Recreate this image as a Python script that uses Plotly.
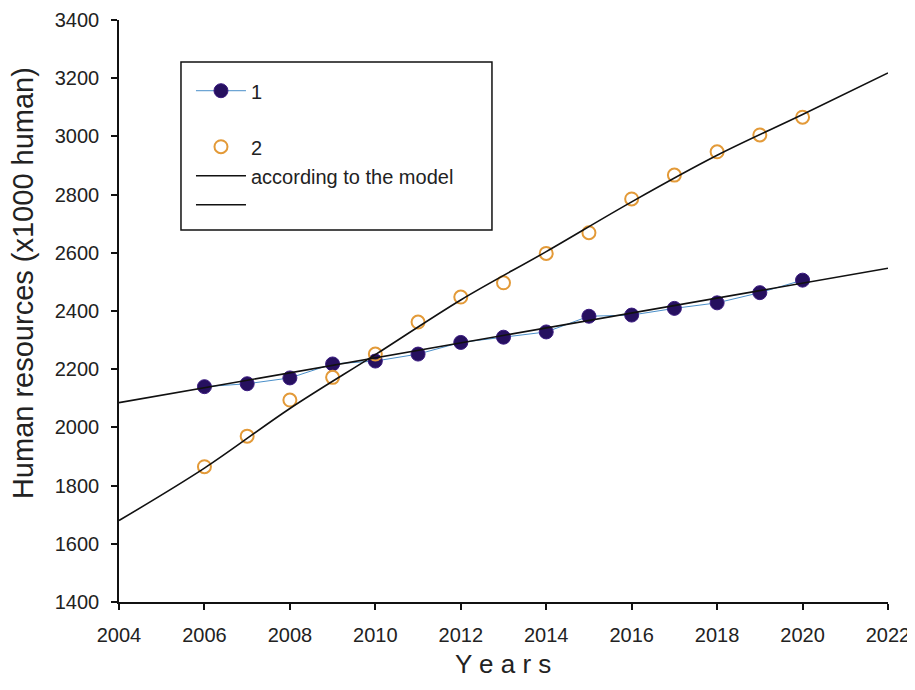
import plotly.graph_objects as go

years = [2006, 2007, 2008, 2009, 2010, 2011, 2012, 2013, 2014, 2015, 2016, 2017, 2018, 2019, 2020]
series1 = [2140, 2150, 2170, 2218, 2228, 2252, 2292, 2310, 2328, 2382, 2386, 2409, 2428, 2463, 2506]
series2 = [1865, 1970, 2094, 2172, 2252, 2362, 2448, 2497, 2598, 2669, 2785, 2867, 2947, 3005, 3066]

model1_years = [2004, 2022]
model1_vals = [2085, 2547]
model2_years = [2004, 2006, 2008, 2010, 2012, 2014, 2016, 2018, 2020, 2022]
model2_vals = [1680, 1860, 2065, 2250, 2438, 2604, 2775, 2935, 3075, 3218]

x_ticks = list(range(2004, 2023, 2))
y_ticks = list(range(1400, 3401, 200))

x_title = "Y e a r s"
y_title = "Human resources (x1000 human)"

FONT = "Liberation Sans, Arial, sans-serif"

fig = go.Figure()
fig.add_trace(go.Scatter(
    x=years, y=series1, name="1", mode="lines+markers",
    line=dict(color="#4a8fc9", width=1),
    marker=dict(color="#26105f", size=14, line=dict(color="#3a1a80", width=1)),
    legendgroup="a",
))
fig.add_trace(go.Scatter(
    x=years, y=series2, name="2", mode="markers",
    marker=dict(symbol="circle-open", color="#e39a38", size=13, line=dict(width=2)),
    legendgroup="b",
))
fig.add_trace(go.Scatter(
    x=model1_years, y=model1_vals, name="according to the model", mode="lines",
    line=dict(color="#111111", width=1.6),
    legendgroup="b",
))
fig.add_trace(go.Scatter(
    x=model2_years, y=model2_vals, name=" ", mode="lines",
    line=dict(color="#111111", width=1.6, shape="spline"),
    legendgroup="b",
))

# plot area in screen px: x 119..888, y 20..602 (page has 8px body margin)
fig.update_layout(
    width=907, height=674,
    margin=dict(l=111, r=27, t=12, b=80),
    paper_bgcolor="white", plot_bgcolor="white",
    font=dict(family=FONT, color="#222222", size=20),
    legend=dict(
        x=0.0936, y=0.912, xanchor="left", yanchor="top",
        borderwidth=0, bgcolor="rgba(0,0,0,0)",
        font=dict(size=20, family=FONT),
        tracegroupgap=27,
        itemwidth=50,
    ),
    showlegend=True,
    shapes=[dict(
        type="rect", xref="paper", yref="paper",
        x0=0.0806, x1=0.485, y0=0.639, y1=0.928,
        line=dict(color="#111111", width=1.5), fillcolor="rgba(0,0,0,0)", layer="above",
    )],
    annotations=[
        dict(text=y_title, xref="paper", yref="paper", x=-0.1248, y=0.548,
             xanchor="center", yanchor="middle", textangle=-90, showarrow=False,
             font=dict(size=29, family=FONT, color="#222222")),
        dict(text=x_title, xref="paper", yref="paper", x=0.499, y=-0.1360,
             xanchor="center", yanchor="bottom", showarrow=False,
             font=dict(size=26, family=FONT, color="#222222")),
    ],
)
fig.update_xaxes(
    range=[2004, 2022], tickvals=x_ticks, ticktext=[str(t) for t in x_ticks],
    showgrid=False, zeroline=False, automargin=False,
    showline=True, linecolor="#111111", linewidth=1.5,
    ticks="outside", ticklen=6, tickwidth=1.5, tickcolor="#111111",
    tickfont=dict(size=20, family=FONT), ticklabelstandoff=8,
)
fig.update_yaxes(
    range=[1400, 3400], tickvals=y_ticks,
    showgrid=False, zeroline=False, automargin=False,
    showline=True, linecolor="#111111", linewidth=1.5,
    ticks="outside", ticklen=6, tickwidth=1.5, tickcolor="#111111",
    tickfont=dict(size=20, family=FONT), ticklabelstandoff=8,
)

fig.write_html("out.html")
